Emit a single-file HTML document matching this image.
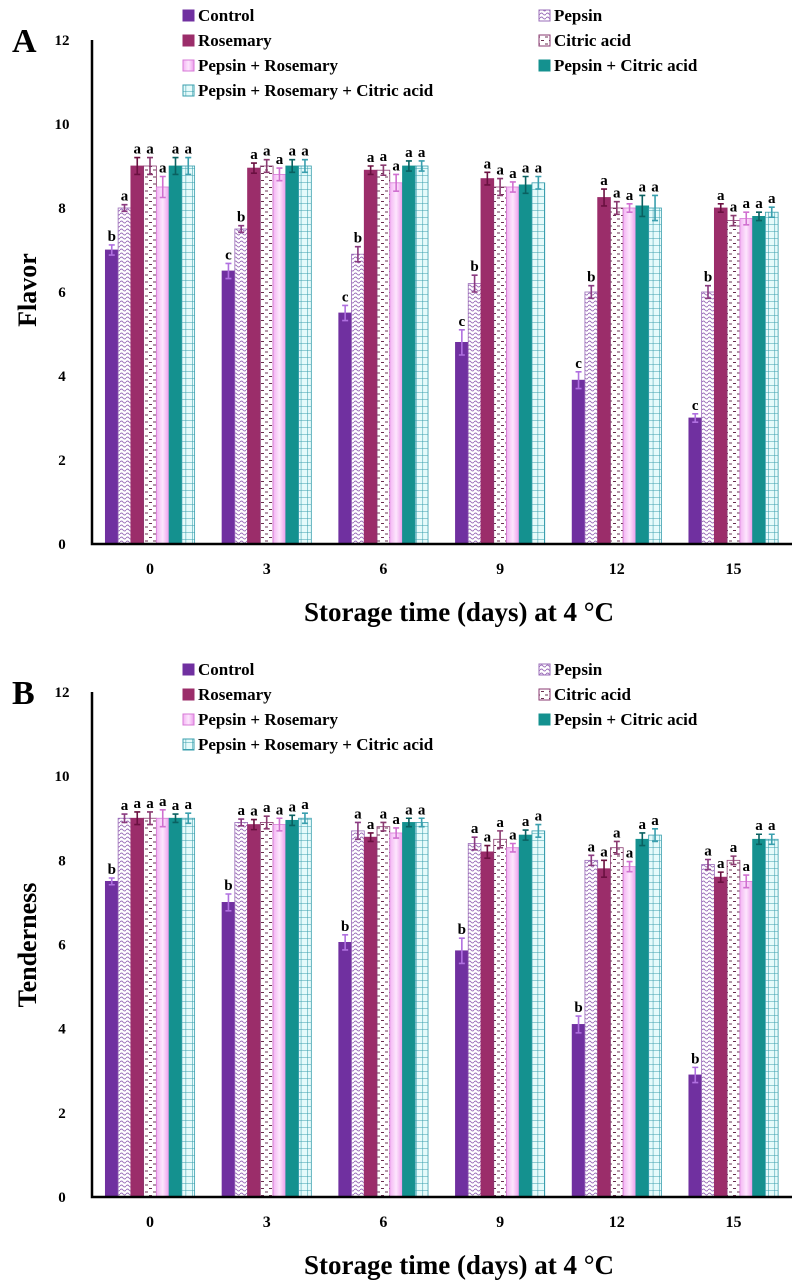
<!DOCTYPE html>
<html><head><meta charset="utf-8">
<style>
html,body{margin:0;padding:0;background:#fff;}
svg{display:block;font-family:"Liberation Serif",serif;}
</style></head>
<body>
<svg id="fig" width="798" height="1287" viewBox="0 0 798 1287" xmlns="http://www.w3.org/2000/svg">
<defs>
  <pattern id="pWave" width="6" height="4" patternUnits="userSpaceOnUse">
    <rect width="6" height="4" fill="#fff"/>
    <path d="M0 2 Q1.5 0 3 2 T6 2" stroke="#9a6cb8" stroke-width="0.9" fill="none"/>
  </pattern>
  <pattern id="pDash" width="8" height="7" patternUnits="userSpaceOnUse">
    <rect width="8" height="7" fill="#fff"/>
    <line x1="1" y1="2" x2="4" y2="2" stroke="#6a3050" stroke-width="1"/>
    <line x1="5" y1="5.5" x2="8" y2="5.5" stroke="#6a3050" stroke-width="1"/>
  </pattern>
  <linearGradient id="gPink" x1="0" x2="1" y1="0" y2="0">
    <stop offset="0" stop-color="#f3b3f3"/><stop offset="0.5" stop-color="#fde6fd"/><stop offset="1" stop-color="#ec9cec"/>
  </linearGradient>
  <pattern id="pGrid" width="6.4" height="7" patternUnits="userSpaceOnUse">
    <rect width="6.4" height="7" fill="#e6fbfb"/>
    <path d="M0 0 H6.4 M0 0 V7" stroke="#3a9fae" stroke-width="1.1"/>
  </pattern>
</defs>
<g id="chartA"></g>
<g id="chartB"></g>
</svg>
<script>
const categories = ["0","3","6","9","12","15"];
const seriesNames = ["Control","Pepsin","Rosemary","Citric acid","Pepsin + Rosemary","Pepsin + Citric acid","Pepsin + Rosemary + Citric acid"];
const yTicks = [0,2,4,6,8,10,12];
// Flavor values per series (rows = series, cols = days)
const flavorControl   = [7.0, 6.5, 5.5, 4.8, 3.9, 3.0];
const flavorPepsin    = [8.0, 7.5, 6.9, 6.2, 6.0, 6.0];
const flavorRosemary  = [9.0, 8.95, 8.9, 8.7, 8.25, 8.0];
const flavorCitric    = [9.0, 9.0, 8.9, 8.5, 8.0, 7.7];
const flavorPepRos    = [8.5, 8.8, 8.6, 8.5, 8.0, 7.75];
const flavorPepCit    = [9.0, 9.0, 9.0, 8.55, 8.05, 7.8];
const flavorAll       = [9.0, 9.0, 9.0, 8.6, 8.0, 7.9];
const flavorErr = [[0.12,0.18,0.18,0.3,0.2,0.1],[0.08,0.08,0.18,0.2,0.15,0.15],[0.2,0.12,0.1,0.15,0.2,0.1],[0.2,0.15,0.12,0.2,0.15,0.12],[0.25,0.15,0.2,0.12,0.1,0.15],[0.2,0.15,0.12,0.2,0.25,0.1],[0.2,0.15,0.12,0.15,0.3,0.12]];
const flavorLetters = [["b","c","c","c","c","c"],["a","b","b","b","b","b"],["a","a","a","a","a","a"],["a","a","a","a","a","a"],["a","a","a","a","a","a"],["a","a","a","a","a","a"],["a","a","a","a","a","a"]];
// Tenderness values
const tendControl  = [7.5, 7.0, 6.05, 5.85, 4.1, 2.9];
const tendPepsin   = [9.0, 8.9, 8.7, 8.4, 8.0, 7.9];
const tendRosemary = [9.0, 8.85, 8.55, 8.2, 7.8, 7.6];
const tendCitric   = [9.0, 8.9, 8.8, 8.5, 8.3, 8.0];
const tendPepRos   = [9.0, 8.85, 8.65, 8.3, 7.85, 7.5];
const tendPepCit   = [9.0, 8.95, 8.9, 8.6, 8.5, 8.5];
const tendAll      = [9.0, 9.0, 8.9, 8.7, 8.6, 8.5];
const tendErr = [[0.08,0.2,0.18,0.3,0.2,0.18],[0.1,0.08,0.2,0.15,0.12,0.12],[0.15,0.12,0.1,0.15,0.2,0.12],[0.15,0.15,0.1,0.2,0.15,0.1],[0.2,0.15,0.12,0.1,0.12,0.15],[0.1,0.12,0.1,0.12,0.15,0.12],[0.12,0.12,0.1,0.15,0.15,0.12]];
const tendLetters = [["b","b","b","b","b","b"],["a","a","a","a","a","a"],["a","a","a","a","a","a"],["a","a","a","a","a","a"],["a","a","a","a","a","a"],["a","a","a","a","a","a"],["a","a","a","a","a","a"]];

const fills = ["#7030a0","url(#pWave)","#9b2d6a","url(#pDash)","url(#gPink)","#14918f","url(#pGrid)"];
const strokes = ["#7030a0","#9a6cb8","#9b2d6a","#8a3a70","#d77ad7","#14918f","#3a9fae"];
const errCol = ["#b070e0","#8a3a80","#6a1040","#8a3a70","#d070d0","#0a6060","#3a9fae"];
const NS = "http://www.w3.org/2000/svg";
function mk(tag, attrs, parent, text){const e=document.createElementNS(NS,tag);for(const k in attrs)e.setAttribute(k,attrs[k]);if(text!==undefined)e.textContent=text;parent.appendChild(e);return e;}

function drawChart(gid, cfg){
  const g = document.getElementById(gid);
  const y0=cfg.y0, y12=cfg.y12, axX=92, axR=792;
  const yScale = v => y0 - (v/12)*(y0-y12);
  const xCenter = i => 150 + i*116.7;
  const bw = 12.75;
  // panel letter
  let t=mk("text",{x:12,y:y12+12,"font-size":34,"font-weight":"bold"},g,cfg.letter);
  
  
  // y ticks
  yTicks.forEach(v=>{
    const tt=mk("text",{x:62,y:yScale(v)+5,"font-size":15,"font-weight":"bold","text-anchor":"middle"},g,String(v));
    
    
  });
  // y title
  const yt=mk("text",{x:0,y:0,"font-size":26,"font-weight":"bold","text-anchor":"middle",transform:`translate(36,${cfg.yTitleY}) rotate(-90)`},g,cfg.yTitle);
  
  
  // bars
  cfg.series.forEach((vals,s)=>{
    vals.forEach((v,i)=>{
      const x = xCenter(i) - 3.5*bw + s*bw;
      const y = yScale(v);
      const r=mk("rect",{x:x,y:y,width:bw,height:y0-y,fill:fills[s],stroke:strokes[s],"stroke-width":0.8},g);
      
      
      const e=cfg.err[s][i];
      const cx=x+bw/2, ya=yScale(v+e), yb=yScale(v-e);
      const eb=mk("path",{d:`M${cx} ${ya}V${yb}M${cx-3} ${ya}H${cx+3}M${cx-3} ${yb}H${cx+3}`,stroke:errCol[s],"stroke-width":1.6,fill:"none"},g);
      
      
      const lt=mk("text",{x:cx,y:ya-4,"font-size":15,"font-weight":"bold","text-anchor":"middle"},g,cfg.letters[s][i]);
      
      
    });
  });
  // axes
  const ax=mk("path",{d:`M${axX} ${y12}V${y0}H${axR}`,stroke:"#000","stroke-width":2.5,fill:"none"},g);
  
  
  categories.forEach((c,i)=>{
    const xt=mk("text",{x:xCenter(i),y:y0+30,"font-size":16,"font-weight":"bold","text-anchor":"middle"},g,c);
    
    
  });
  const xtt=mk("text",{x:459,y:cfg.xTitleY,"font-size":27,"font-weight":"bold","text-anchor":"middle"},g,"Storage time (days) at 4 °C");
  
  
  // legend
  const order=[[0,183,0],[1,539,0],[2,183,1],[3,539,1],[4,183,2],[5,539,2],[6,183,3]];
  order.forEach(([s,lx,row])=>{
    const ly=cfg.legY+row*25;
    const lg=mk("g",{},g);
    
    
    mk("rect",{x:lx,y:ly-11,width:11,height:11,fill:fills[s],stroke:strokes[s],"stroke-width":1},lg);
    mk("text",{x:lx+15,y:ly,"font-size":17,"font-weight":"bold"},lg,seriesNames[s]);
  });
}
drawChart("chartA",{y0:544,y12:40,letter:"A",yTitle:"Flavor",yTitleY:290,xTitleY:621,legY:21,
  series:[flavorControl,flavorPepsin,flavorRosemary,flavorCitric,flavorPepRos,flavorPepCit,flavorAll],err:flavorErr,letters:flavorLetters});
drawChart("chartB",{y0:1197,y12:692,letter:"B",yTitle:"Tenderness",yTitleY:945,xTitleY:1274,legY:675,
  series:[tendControl,tendPepsin,tendRosemary,tendCitric,tendPepRos,tendPepCit,tendAll],err:tendErr,letters:tendLetters});
</script>
</body></html>
